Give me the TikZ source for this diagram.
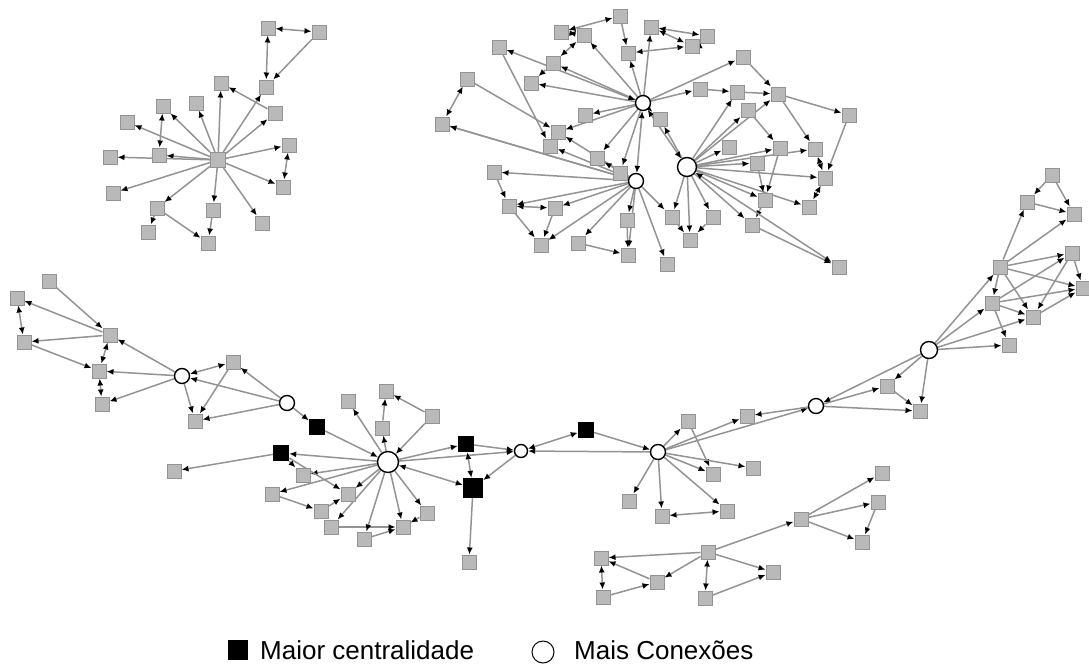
\documentclass[tikz,border=0pt]{standalone}
\usepackage{fontspec}
\setmainfont{Liberation Sans}
\usetikzlibrary{arrows.meta,backgrounds}
\tikzset{
  gn/.style={rectangle, fill=gray!55, draw=gray!85, line width=1pt, minimum size=14pt, inner sep=0pt},
  wh/.style={circle, fill=white, draw=black, line width=1.4pt, minimum size=15pt, inner sep=0pt},
  bk/.style={rectangle, fill=black, minimum size=16pt, inner sep=0pt},
  tip/.tip={Latex[length=7pt,width=6pt,color=black]},
  ln/.style={draw=gray!85, line width=1.5pt, -tip},
  lnb/.style={draw=gray!85, line width=1.5pt, tip-tip}
}
\begin{document}
\begin{tikzpicture}[x=1pt,y=-1pt]
\useasboundingbox (0,0) rectangle (1089,670);
% ---------- cluster A ----------
\node[gn,minimum size=15pt] (a0) at (218,160) {};
\foreach \n/\x/\y in {a1/268/28,a2/319/32,a3/266/87,a4/221/83,a5/275/113,a6/196/103,a7/163/106,a8/127/122,a9/159/155,a10/110/157,a11/289/145,a12/283/187,a13/113/193,a14/157/208,a15/213/210,a16/262/223,a17/148/232,a18/208/243}
  \node[gn] (\n) at (\x,\y) {};
% ---------- cluster B ----------
\node[wh] (b1) at (643,103) {};
\node[wh] (b2) at (636,181) {};
\node[wh,minimum size=19pt] (b3) at (687,167) {};
\foreach \n/\x/\y in {c1/620/16,c2/561/32,c3/584/35,c4/651/27,c5/707/36,c6/692/46,c7/743/57,c8/628/53,c9/499/47,c10/553/63,c11/531/83,c12/467/79,c13/442/124,c14/585/115,c15/558/132,c16/550/146,c17/597/158,c18/494/172,c19/620/173,c20/509/206,c21/555/208,c22/627/220,c23/672/217,c24/541/245,c25/578/243,c26/628/255,c27/667/264,c28/700/89,c29/737/92,c30/748/110,c31/778/94,c32/849/115,c33/660/119,c34/729/147,c35/780/148,c36/757/163,c37/815/149,c38/825/178,c39/765/200,c40/809/207,c41/713/217,c42/752/225,c43/690/240,c44/839/267}
  \node[gn] (\n) at (\x,\y) {};
% ---------- main chain ----------
\foreach \n/\x/\y in {d1/49/281,d2/17/298,d3/110/335,d4/24/342,d5/99/371,d6/102/404,d7/233/362,d8/195/421,e1/174/471,e2/348/401,e3/386/391,e4/432/416,e5/382/428,e6/303/475,e7/272/494,e8/348/494,e9/321/511,e10/331/527,e11/427/513,e12/403/527,e13/364/539,e14/469/562,f1/688/421,f2/747/416,f3/713/474,f4/753/468,f5/629/501,f6/662/516,f7/727/511,f8/887/386,f9/920/411,g1/1052/175,g2/1027/202,g3/1074/214,g4/1000/267,g5/1072/253,g6/1083/288,g7/992/303,g8/1033/317,g9/1009/345,h1/882/473,h2/878/502,h3/801/519,h4/862/542,h5/708/552,h6/601/558,h7/657/582,h8/773/572,h9/603/597,h10/705/598}
  \node[gn] (\n) at (\x,\y) {};
\node[wh] (w1) at (182,376) {};
\node[wh] (w2) at (287,403) {};
\node[wh,minimum size=21pt] (W) at (388,462) {};
\node[wh,minimum size=13pt] (w3) at (521,451) {};
\node[wh] (w4) at (658,452) {};
\node[wh] (w5) at (816,406) {};
\node[wh,minimum size=17pt] (w6) at (929,350) {};
\node[bk] (k1) at (317,427) {};
\node[bk] (k2) at (281,453) {};
\node[bk] (k3) at (466,444) {};
\node[bk,minimum size=20pt] (k4) at (473,488) {};
\node[bk] (k5) at (586,430) {};
% ---------- legend ----------
\node[bk,minimum size=20pt] (lk) at (238,650) {};
\node[anchor=west,font=\fontsize{26}{30}\selectfont,inner sep=0pt] (lt1) at (260,650) {Maior centralidade};
\node[circle,draw=black,line width=1pt,minimum size=22pt,inner sep=0pt] (lc) at (543,652) {};
\node[anchor=west,font=\fontsize{26}{30}\selectfont,inner sep=0pt] (lt2) at (574,650) {Mais Conex\~oes};
% ---------- edges ----------
\begin{pgfonlayer}{background}
\foreach \a/\b in {a0/a4,a0/a3,a2/a3,a5/a4,a0/a5,a0/a6,a0/a7,a0/a8,a0/a9,a0/a10,a0/a11,a0/a12,a0/a13,a0/a14,a14/a17,a14/a18,a0/a15,a15/a18,a0/a16,
  b1/c10,b1/c11,b1/c8,b1/c4,b1/c14,b1/c15,b1/c33,b1/c28,b1/c7,b1/c19,b1/c17,b1/c3,c1/c8,c10/c11,c12/c15,c9/c16,c13/b2,
  b2/c18,b2/c20,b2/c21,b2/c24,b2/c25,b2/c22,b2/c26,b2/c27,b2/c23,b2/c16,b2/c15,b2/c17,b2/c13,
  b3/c34,b3/c36,b3/c35,b3/c37,b3/c38,b3/c39,b3/c40,b3/c41,b3/c42,b3/c43,b3/c23,b3/c30,b3/c29,b3/c33,b3/c31,
  c7/c31,c31/c32,c29/c31,c28/c29,c31/c37,c32/c38,c36/c39,c39/c42,c42/c44,c23/c43,c41/c43,c18/c20,c20/c24,c21/c24,c25/c26,c22/c26,c35/c39,c30/c35,
  d1/d3,d3/d2,d3/d4,d4/d5,w1/d3,w1/d5,w1/d6,w1/d8,d7/d8,w2/d7,w2/w1,w2/d8,w2/k1,k1/W,
  W/e2,e5/e3,e4/e3,e4/W,W/e5,W/k2,k2/e1,W/e6,k2/e6,k2/e8,W/e8,W/e7,e7/e9,e9/e8,W/e10,e10/e12,W/e12,W/e13,e13/e12,W/e11,e11/e12,W/k3,W/w3,k4/e14,
  k3/w3,w3/k4,w4/w3,k5/w4,w4/f1,f1/f3,w4/f2,w4/w5,w4/f3,w4/f4,w4/f5,w4/f6,w4/f7,
  w6/w5,w5/f8,w5/f9,f8/f9,w6/f8,w6/f9,w5/f2,
  g1/g2,g1/g3,g2/g3,g4/g2,g4/g3,g4/g5,g4/g6,g4/g8,g4/g7,g5/g6,g5/g8,g7/g5,g7/g6,g7/g8,g8/g6,g7/g9,w6/g4,w6/g7,w6/g9,w6/g8,
  h3/h1,h3/h2,h3/h4,h2/h4,h5/h3,h5/h6,h5/h7,h7/h6,h9/h7,h5/h8,h10/h8}
  \draw[ln] (\a) -- (\b);
\foreach \a/\b in {a1/a2,a1/a3,a7/a9,a11/a12,
  c2/c1,c2/c3,c4/c5,c4/c6,c6/c5,c8/c6,c10/c3,c12/c13,c37/c38,c38/c40,c20/c21,b1/b3,b1/b2,c9/b1,
  d2/d4,d3/d5,d5/d6,w1/d7,
  k3/k4,w3/k5,f6/f7,h6/h9,h5/h10,W/k4,c44/b3}
  \draw[lnb] (\a) -- (\b);
\end{pgfonlayer}
\end{tikzpicture}
\end{document}
